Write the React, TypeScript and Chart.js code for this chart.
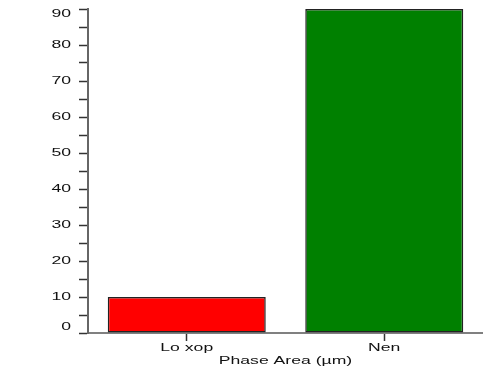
import React, { useEffect, useRef } from "react";
import { Chart, registerables } from "chart.js";

Chart.register(...registerables);

const categories = ["Lo xop", "Nen"];
const values = [10, 90];
const barColors = ["#ff0000", "#008000"];
const xTitle = "Phase Area (µm)";
const yMax = 90;
const yStep = 5;
const yLabelStep = 10;

const FONT = "11px 'Liberation Sans', Arial, sans-serif";
const STRETCH = 1.6;

function drawText(ctx: CanvasRenderingContext2D, text: string, x: number, y: number, align: CanvasTextAlign) {
  ctx.save();
  ctx.translate(x, y);
  ctx.scale(STRETCH, 1);
  ctx.font = FONT;
  ctx.fillStyle = "#111111";
  ctx.textAlign = align;
  ctx.textBaseline = "middle";
  ctx.fillText(text, 0, 0);
  ctx.restore();
}

const labelPlugin = {
  id: "stretchedLabels",
  afterDraw(chart: any) {
    const ctx = chart.ctx as CanvasRenderingContext2D;
    const area = chart.chartArea;
    const ys = chart.scales.y;
    const xs = chart.scales.x;
    for (let v = 0; v <= yMax; v += yLabelStep) {
      let py = ys.getPixelForValue(v);
      py = Math.max(area.top + 5, Math.min(area.bottom - 6, py));
      drawText(ctx, String(v), area.left - 17, py, "right");
    }
    categories.forEach((c, i) => {
      const px = xs.getPixelForValue(i);
      drawText(ctx, c, px, area.bottom + 15, "center");
    });
    drawText(ctx, xTitle, (area.left + area.right) / 2, area.bottom + 27.5, "center");
  },
};

export default function App() {
  const ref = useRef<HTMLCanvasElement | null>(null);
  useEffect(() => {
    if (!ref.current) return;
    const chart = new Chart(ref.current, {
      type: "bar",
      data: {
        labels: categories,
        datasets: [
          {
            data: values,
            backgroundColor: barColors,
            borderColor: "#222222",
            borderWidth: 1.5,
            borderSkipped: false,
            barPercentage: 0.8,
            categoryPercentage: 1,
          },
        ],
      },
      plugins: [labelPlugin],
      options: {
        animation: false,
        responsive: false,
        maintainAspectRatio: false,
        layout: { padding: { top: 9, right: -1.5, left: 0, bottom: 0 } },
        plugins: { legend: { display: false }, tooltip: { enabled: false } },
        scales: {
          x: {
            offset: true,
            grid: {
              offset: false,
              drawOnChartArea: false,
              tickLength: 8,
              tickColor: "#333333",
              tickWidth: 1.5,
            },
            border: { color: "#808080", width: 2 },
            ticks: { display: false },
            afterFit: (s: any) => {
              s.height = 36;
            },
          },
          y: {
            min: 0,
            max: yMax,
            grid: {
              drawOnChartArea: false,
              tickLength: 9,
              tickColor: "#333333",
              tickWidth: 1.5,
            },
            border: { color: "#666666", width: 2 },
            ticks: { stepSize: yStep, display: false, autoSkip: false },
            afterFit: (s: any) => {
              s.width = 88;
            },
          },
        },
      },
    });
    return () => chart.destroy();
  }, []);
  return (
    <div style={{ position: "absolute", left: 0, top: 0, width: 483, height: 369, background: "#fff" }}>
      <canvas ref={ref} width={483} height={369} style={{ width: 483, height: 369, display: "block" }} />
    </div>
  );
}
